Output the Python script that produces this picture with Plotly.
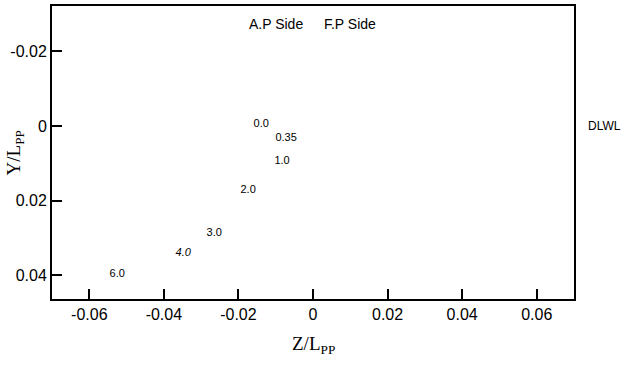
import plotly.graph_objects as go

# Data labels (time values) and their positions
label_text = ["0.0", "0.35", "1.0", "2.0", "3.0", "4.0", "6.0"]
label_z = [-0.0139, -0.0072, -0.0083, -0.0174, -0.0265, -0.0348, -0.0525]
label_y = [-0.0005, 0.0032, 0.0094, 0.0171, 0.0287, 0.0340, 0.0396]

side_text = ["A.P Side", "F.P Side"]
side_z = [-0.0099, 0.0099]
side_y = [-0.0270, -0.0270]

x_tickvals = [-0.06, -0.04, -0.02, 0, 0.02, 0.04, 0.06]
x_ticktext = ["-0.06", "-0.04", "-0.02", "0", "0.02", "0.04", "0.06"]
y_tickvals = [-0.02, 0, 0.02, 0.04]
y_ticktext = ["-0.02", "0", "0.02", "0.04"]

x_range = [-0.07, 0.07]
y_range = [0.0463, -0.0321]

shown = [("<i>%s</i>" % t if t == "4.0" else t) for t in label_text]

fig = go.Figure()
fig.add_trace(go.Scatter(
    x=label_z, y=label_y, text=shown, mode="text",
    textfont=dict(family="Liberation Sans, Arial", size=11, color="black"),
    hoverinfo="skip", showlegend=False))
fig.add_trace(go.Scatter(
    x=side_z, y=side_y, text=side_text, mode="text",
    textfont=dict(family="Liberation Sans, Arial", size=14, color="black"),
    hoverinfo="skip", showlegend=False))

fig.add_annotation(text="DLWL", xref="paper", yref="y", x=1.023, y=0,
                   xanchor="left", yanchor="middle", showarrow=False,
                   font=dict(family="Liberation Sans, Arial", size=12, color="black"))

serif = dict(family="Liberation Serif, Times New Roman", size=19, color="black")
fig.add_annotation(text="Z/L<sub>PP</sub>", xref="paper", yref="paper",
                   x=0.5, y=-0.157, xanchor="center", yanchor="middle",
                   showarrow=False, font=serif)
fig.add_annotation(text="Y/L<sub>PP</sub>", xref="paper", yref="paper",
                   x=-0.071, y=0.5, xanchor="center", yanchor="middle",
                   textangle=-90, showarrow=False, font=serif)

axis_common = dict(
    showgrid=False, zeroline=False, showline=True, linecolor="black",
    linewidth=2, mirror=True, ticks="inside", ticklen=10, tickwidth=2,
    tickcolor="black", automargin=False,
    tickfont=dict(family="Liberation Sans, Arial", size=16, color="black"),
)

fig.update_xaxes(range=x_range, tickvals=x_tickvals, ticktext=x_ticktext,
                 **axis_common)
fig.update_yaxes(range=y_range, tickvals=y_tickvals, ticktext=y_ticktext,
                 **axis_common)

fig.update_layout(
    width=623, height=367,
    margin=dict(l=52, r=49, t=6, b=68),
    paper_bgcolor="white", plot_bgcolor="white",
    showlegend=False,
)

fig.write_html("out.html", config={"displayModeBar": False},
               post_script="document.body.style.margin='0';document.body.style.overflow='hidden';")
